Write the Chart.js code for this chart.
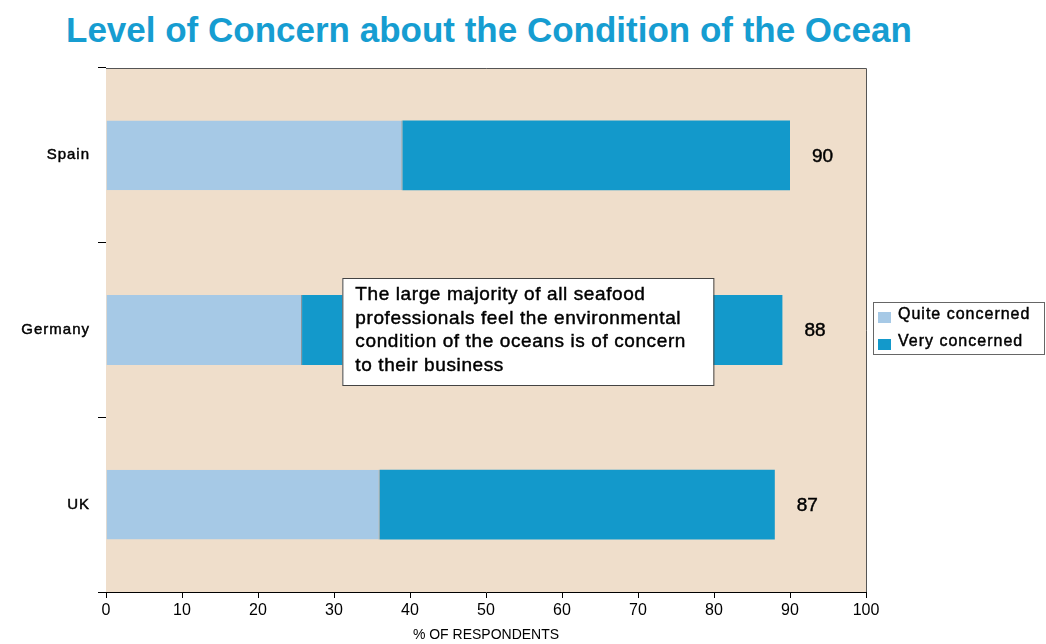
<!DOCTYPE html>
<html>
<head>
<meta charset="utf-8">
<script src="https://cdn.jsdelivr.net/npm/chart.js@4/dist/chart.umd.min.js"></script>
<style>
  html, body { margin: 0; padding: 0; background: #fff; }
  #wrap { position: relative; width: 1046px; height: 644px; }
  #title {
    position: absolute; left: 66px; top: 10px;
    font: bold 35px "Liberation Sans", Arial, sans-serif;
    color: #169dd1; white-space: nowrap;
  }
  canvas { position: absolute; left: 0; top: 0; }
</style>
</head>
<body>
<div id="wrap">
  <div id="title">Level of Concern about the Condition of the Ocean</div>
  <canvas id="chart" width="1046" height="644"></canvas>
</div>
<script>
const countries = ["Spain", "Germany", "UK"]
const quiteConcerned = [39, 25.8, 36]
const veryConcerned = [51, 63.2, 52]
const totalLabels = ["90", "88", "87"]
const xTicks = [0, 10, 20, 30, 40, 50, 60, 70, 80, 90, 100]

const noteLines = [
  "The large majority of all seafood",
  "professionals feel the environmental",
  "condition of the oceans is of concern",
  "to their business",
]

const FONT = '"Liberation Sans", Arial, sans-serif'

// slightly heavier text, like the medium weight in the source
const medText = (ctx, t, x, y) => {
  ctx.fillText(t, x, y)
  ctx.lineWidth = 0.45
  ctx.strokeStyle = ctx.fillStyle
  ctx.strokeText(t, x, y)
}

// background fill, frame, labels, totals, note box and legend
const extras = {
  id: "extras",
  beforeDatasetsDraw(chart) {
    const { ctx, chartArea: a } = chart
    ctx.save()
    ctx.fillStyle = "#efdecb"
    ctx.fillRect(a.left, a.top, a.right - a.left, a.bottom - a.top)
    ctx.restore()
  },
  afterDatasetsDraw(chart) {
    const { ctx, chartArea: a, scales } = chart
    ctx.save()
    ctx.strokeStyle = "#555"
    ctx.lineWidth = 1
    ctx.beginPath()
    ctx.moveTo(a.left, a.top + 0.5)
    ctx.lineTo(a.right + 0.5, a.top + 0.5)
    ctx.lineTo(a.right + 0.5, a.bottom)
    ctx.stroke()

    // category labels
    ctx.fillStyle = "#000"
    ctx.textBaseline = "middle"
    ctx.textAlign = "right"
    ctx.font = "15px " + FONT
    ctx.letterSpacing = "1px"
    countries.forEach((c, i) => {
      medText(ctx, c, a.left - 16, scales.y.getPixelForValue(i))
    })
    ctx.letterSpacing = "0px"

    // totals right of bars
    ctx.textAlign = "left"
    ctx.font = "19px " + FONT
    countries.forEach((c, i) => {
      const end = quiteConcerned[i] + veryConcerned[i]
      const x = scales.x.getPixelForValue(end) + 22
      const y = scales.y.getPixelForValue(i) + 1
      medText(ctx, totalLabels[i], x, y)
    })

    // note box over Germany bar
    const bx = scales.x.getPixelForValue(31.1)
    const by = scales.y.getPixelForValue(1) - 52
    const bw = 371, bh = 107
    ctx.fillStyle = "#fff"
    ctx.fillRect(bx, by, bw, bh)
    ctx.strokeStyle = "#444"
    ctx.lineWidth = 1
    ctx.strokeRect(bx + 0.5, by + 0.5, bw, bh)
    ctx.fillStyle = "#000"
    ctx.font = "19px " + FONT
    ctx.letterSpacing = "0.6px"
    noteLines.forEach((t, i) => medText(ctx, t, bx + 13, by + 17 + i * 23.5))

    // legend box
    const lx = a.right + 7, ly = 302
    ctx.fillStyle = "#fff"
    ctx.fillRect(lx, ly, 171, 52)
    ctx.strokeStyle = "#666"
    ctx.lineWidth = 1
    ctx.strokeRect(lx + 0.5, ly + 0.5, 171, 52)
    const items = [["Quite concerned", "#a6c9e6"], ["Very concerned", "#1399cb"]]
    ctx.font = "16px " + FONT
    ctx.letterSpacing = "1px"
    items.forEach(([label, col], i) => {
      const y = ly + 13 + i * 27
      ctx.fillStyle = col
      ctx.fillRect(lx + 5, y - 3, 13, 11)
      ctx.fillStyle = "#000"
      medText(ctx, label, lx + 25, y)
    })
    ctx.letterSpacing = "0px"
    ctx.restore()
  },
}

new Chart(document.getElementById("chart"), {
  type: "bar",
  data: {
    labels: countries,
    datasets: [
      {
        label: "Quite concerned",
        data: quiteConcerned,
        backgroundColor: "#a6c9e6",
        borderColor: "#7a8a96",
        borderWidth: { right: 1, left: 0, top: 0, bottom: 0 },
        borderSkipped: false,
        barPercentage: 0.4,
        categoryPercentage: 1,
      },
      {
        label: "Very concerned",
        data: veryConcerned,
        backgroundColor: "#1399cb",
        borderWidth: 0,
        barPercentage: 0.4,
        categoryPercentage: 1,
      },
    ],
  },
  options: {
    indexAxis: "y",
    responsive: false,
    animation: false,
    layout: { padding: { top: 68, right: 180, left: 0, bottom: 0 } },
    plugins: { legend: { display: false }, tooltip: { enabled: false } },
    scales: {
      x: {
        stacked: true,
        min: 0,
        max: 100,
        afterBuildTicks: (s) => { s.ticks = xTicks.map((v) => ({ value: v })) },
        afterFit: (s) => { s.height = 52 },
        border: { color: "#000", width: 1 },
        grid: { drawOnChartArea: false, tickLength: 6, color: "#000" },
        ticks: { color: "#000", font: { family: FONT, size: 16 }, padding: 3 },
        title: {
          display: true,
          text: "% OF RESPONDENTS",
          color: "#000",
          font: { family: FONT, size: 14 },
          padding: { top: 5, bottom: 0 },
        },
      },
      y: {
        stacked: true,
        afterFit: (s) => { s.width = 106 },
        border: { color: "#000", width: 1 },
        grid: { offset: true, drawOnChartArea: false, tickLength: 8, color: "#000" },
        ticks: { display: false },
      },
    },
  },
  plugins: [extras],
})
</script>
</body>
</html>
